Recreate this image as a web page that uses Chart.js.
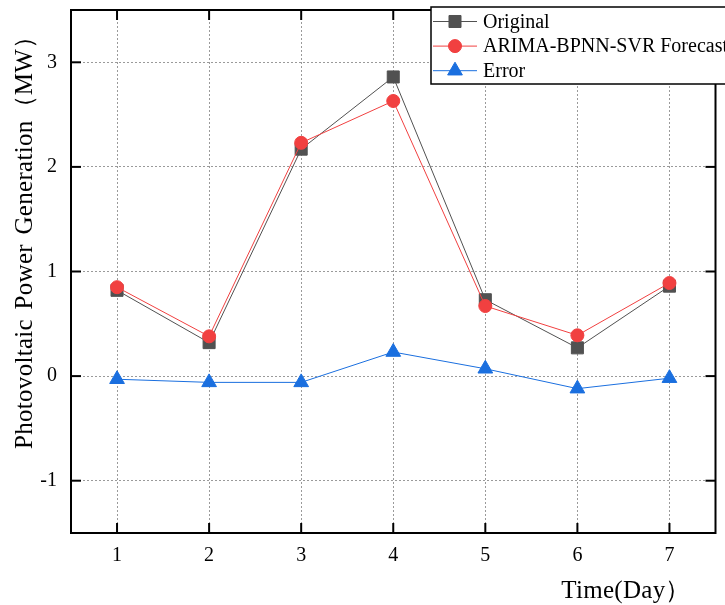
<!DOCTYPE html>
<html>
<head>
<meta charset="utf-8">
<title>PV forecast</title>
<script src="https://cdn.jsdelivr.net/npm/chart.js@4.4.1/dist/chart.umd.min.js"></script>
<style>
  html, body { margin: 0; padding: 0; background: #fff; }
  #wrap { width: 725px; height: 605px; }
</style>
</head>
<body>
<div id="wrap"><canvas id="pvChart" width="725" height="605"></canvas></div>
<script>
// daily values, MW
const days = ['1', '2', '3', '4', '5', '6', '7'];
const original = [0.82, 0.32, 2.17, 2.86, 0.73, 0.27, 0.86];
const forecast = [0.85, 0.38, 2.23, 2.63, 0.67, 0.39, 0.89];
const errors = [-0.03, -0.06, -0.06, 0.23, 0.07, -0.12, -0.02];
const yTicks = [-1, 0, 1, 2, 3];

const SERIF = '"Liberation Serif", "Times New Roman", serif';
const GREY = '#515151', RED = '#F14040', BLUE = '#1A6FDF';

// frame, inward ticks, boxed legend and axis titles
const chrome = {
    id: 'chrome',
    afterDraw(chart) {
        const { ctx, chartArea: a, scales: { x, y } } = chart;
        ctx.save();

        function seg(x1, y1, x2, y2) {
            ctx.beginPath();
            ctx.moveTo(x1, y1);
            ctx.lineTo(x2, y2);
            ctx.stroke();
        }

        ctx.strokeStyle = '#000';
        ctx.lineWidth = 2;
        days.forEach((d, i) => {
            const px = x.getPixelForValue(i);
            seg(px, a.bottom, px, a.bottom - 10);
            seg(px, a.top, px, a.top + 10);
        });
        yTicks.forEach(v => {
            const py = y.getPixelForValue(v);
            seg(a.left, py, a.left + 10, py);
            seg(a.right, py, a.right - 10, py);
        });
        ctx.strokeRect(a.left, a.top, a.right - a.left, a.bottom - a.top);

        // legend
        ctx.fillStyle = '#fff';
        ctx.lineWidth = 1.5;
        ctx.fillRect(431, 7, 320, 77);
        ctx.strokeRect(431, 7, 320, 77);
        chart.data.datasets.forEach((ds, i) => {
            const ry = 21.5 + i * 24.6;
            ctx.strokeStyle = ds.borderColor;
            ctx.lineWidth = 1;
            seg(433, ry, 477, ry);
            ctx.fillStyle = ds.pointBackgroundColor;
            ctx.strokeStyle = ds.pointBorderColor;
            Chart.helpers.drawPoint(ctx, {
                pointStyle: ds.pointStyle, radius: ds.pointRadius,
                rotation: 0, borderWidth: 1
            }, 455, ry);
            ctx.fillStyle = '#000';
            ctx.font = '20px ' + SERIF;
            ctx.textAlign = 'left';
            ctx.textBaseline = 'middle';
            ctx.fillText(ds.label, 483, ry + 1);
        });

        // axis titles
        ctx.fillStyle = '#000';
        ctx.font = '25px ' + SERIF;
        ctx.letterSpacing = '0.3px';
        ctx.textBaseline = 'alphabetic';
        ctx.textAlign = 'center';
        ctx.fillText('Time(Day）', 626, 598);

        ctx.translate(32, 449);
        ctx.rotate(-Math.PI / 2);
        ctx.textAlign = 'left';
        ctx.wordSpacing = '3px';
        ctx.fillText('Photovoltaic Power Generation（MW）', 0, 0);
        ctx.restore();
    }
};

function series(label, values, color, style, r, order) {
    return {
        label: label,
        data: values,
        borderColor: color,
        borderWidth: 1,
        backgroundColor: color,
        pointStyle: style,
        pointRadius: r,
        pointHoverRadius: r,
        pointBackgroundColor: color,
        pointBorderColor: color,
        pointBorderWidth: 1,
        tension: 0,
        order: order
    };
}

new Chart(document.getElementById('pvChart'), {
    type: 'line',
    data: {
        labels: days,
        datasets: [
            series('Original', original, GREY, 'rect', 8.5, 3),
            series('ARIMA-BPNN-SVR Forecast', forecast, RED, 'circle', 6.5, 2),
            series('Error', errors, BLUE, 'triangle', 8.5, 1)
        ]
    },
    options: {
        responsive: false,
        animation: false,
        devicePixelRatio: 1,
        layout: { padding: { top: 10, right: 0, left: 0, bottom: 0 } },
        plugins: { legend: { display: false }, tooltip: { enabled: false } },
        scales: {
            x: {
                type: 'category',
                offset: true,
                grid: { color: '#9a9a9a', lineWidth: 1, drawTicks: false },
                border: { display: false, dash: [2, 2] },
                ticks: { color: '#000', padding: 11, font: { family: SERIF, size: 20 } },
                afterFit(s) {
                    s.height = 72;
                    s.paddingLeft = 0;
                    s.paddingRight = 0;
                }
            },
            y: {
                min: -1.5,
                max: 3.5,
                afterBuildTicks(s) { s.ticks = yTicks.map(v => ({ value: v })); },
                grid: { color: '#9a9a9a', lineWidth: 1, drawTicks: false },
                border: { display: false, dash: [2, 2] },
                ticks: { color: '#000', padding: 14, font: { family: SERIF, size: 20 } },
                afterFit(s) {
                    s.width = 71;
                    s.paddingTop = 0;
                    s.paddingBottom = 0;
                }
            }
        }
    },
    plugins: [chrome]
});
</script>
</body>
</html>
